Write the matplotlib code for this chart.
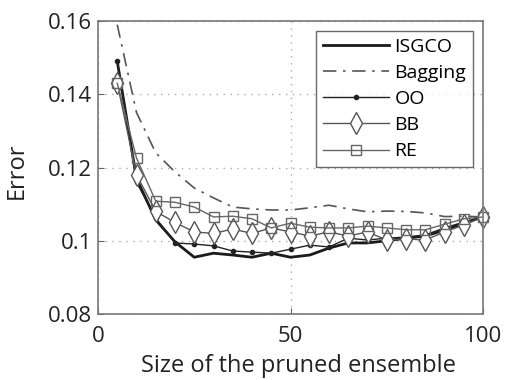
import matplotlib
matplotlib.use("Agg")
import matplotlib.pyplot as plt

plt.rcParams['font.family'] = ['Open Sans', 'DejaVu Sans']

sizes = [5, 10, 15, 20, 25, 30, 35, 40, 45, 50, 55, 60, 65, 70, 75, 80, 85, 90, 95, 100]
isgco = [0.149, 0.117, 0.1057, 0.0997, 0.0955, 0.0966, 0.0961, 0.0955, 0.0966, 0.0955,
         0.0961, 0.0980, 0.0994, 0.0994, 0.1000, 0.1007, 0.1013, 0.1029, 0.1048, 0.1065]
bagging = [0.159, 0.135, 0.124, 0.1188, 0.1144, 0.1117, 0.1092, 0.1087, 0.1084, 0.1084,
           0.1090, 0.1097, 0.1087, 0.1079, 0.1081, 0.1080, 0.1076, 0.1066, 0.1067, 0.1065]
oo = [0.149, 0.116, 0.1062, 0.0994, 0.0991, 0.0986, 0.0972, 0.0969, 0.0966, 0.0977,
      0.0988, 0.0983, 0.1007, 0.1002, 0.1007, 0.1010, 0.1016, 0.1035, 0.1051, 0.1065]
bb = [0.143, 0.118, 0.108, 0.105, 0.1024, 0.1020, 0.1032, 0.1020, 0.1035, 0.1024,
      0.1013, 0.1024, 0.1013, 0.1024, 0.1002, 0.1005, 0.1002, 0.1024, 0.1043, 0.1065]
re = [0.143, 0.1226, 0.1108, 0.1105, 0.1092, 0.1065, 0.1067, 0.1060, 0.1035, 0.1048,
      0.1037, 0.1035, 0.1035, 0.1040, 0.1035, 0.1030, 0.1030, 0.1045, 0.1060, 0.1065]

fig = plt.figure(figsize=(5.05, 3.8), dpi=100)
ax = fig.add_axes([98/505, 66/380, 385/505, 293/380])

ax.plot(sizes, isgco, color='#1a1a1a', lw=2.0, label='ISGCO', clip_on=False)
ax.plot(sizes, bagging, color='#555555', lw=1.2, ls=(0, (8, 4, 1.5, 4)), label='Bagging',
        clip_on=False)
ax.plot(sizes, oo, color='#222222', lw=1.0, marker='o', ms=3, label='OO', clip_on=False)
ax.plot(sizes, bb, color='#555555', lw=1.0, marker='d', ms=11, mfc='white', mec='#555555',
        mew=1.0, label='BB', clip_on=False)
ax.plot(sizes, re, color='#666666', lw=1.0, marker='s', ms=7.5, mfc='none', mec='#666666',
        mew=1.0, label='RE', clip_on=False)

ax.set_xlim(0, 100)
ax.set_ylim(0.08, 0.16)
ax.set_xticks([0, 50, 100])
ax.set_yticks([0.08, 0.1, 0.12, 0.14, 0.16])
ax.set_yticklabels(['0.08', '0.1', '0.12', '0.14', '0.16'])
ax.tick_params(direction='in', length=4, labelsize=16, color='#666666', labelcolor='#222222',
               pad=4)
ax.tick_params(axis='x', pad=9)
ax.grid(True, color='#aaaaaa', ls=(0, (1, 4)), lw=1.0)
for s in ax.spines.values():
    s.set_color('#777777')
    s.set_linewidth(1.2)

ax.set_xlabel('Size of the pruned ensemble', fontsize=17, color='#222222')
ax.set_ylabel('Error', fontsize=17, color='#222222')
ax.xaxis.set_label_coords(0.52, -0.135)
ax.yaxis.set_label_coords(-0.18, 0.49)

leg = ax.legend(loc='upper right', fontsize=14, handlelength=3.4, frameon=True, fancybox=False,
                edgecolor='#444444', borderpad=0.35, labelspacing=0.42, handletextpad=0.3,
                borderaxespad=0, bbox_to_anchor=(1 - 10/385, 1 - 10/293))
leg.get_frame().set_linewidth(1.0)

fig.savefig('out.png', dpi=100)
